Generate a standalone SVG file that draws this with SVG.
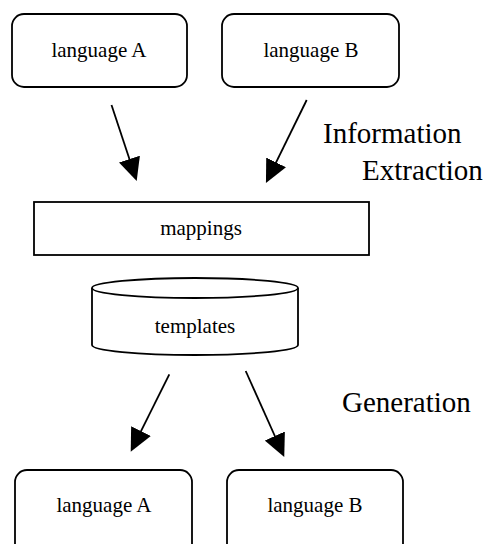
<svg xmlns="http://www.w3.org/2000/svg" width="485" height="544" viewBox="0 0 485 544">
  <defs>
    <style>
      .box { fill: #ffffff; stroke: #000000; stroke-width: 1.8; }
      .lbl { font-family: "Liberation Serif", "Times New Roman", serif; font-size: 21px; fill: #000000; text-anchor: middle; }
      .big { font-family: "Liberation Serif", "Times New Roman", serif; font-size: 29px; fill: #000000; }
      .edge { stroke: #000000; stroke-width: 1.8; fill: none; marker-end: url(#head); }
    </style>
    <marker id="head" markerUnits="userSpaceOnUse" markerWidth="24" markerHeight="22" viewBox="0 0 24 22" refX="17" refY="11" orient="auto">
      <path d="M0,0 L23,11 L0,22 Z" fill="#000000"/>
    </marker>
  </defs>

  <rect width="485" height="544" fill="#ffffff"/>

  <!-- source languages -->
  <g id="src-a">
    <rect class="box" x="12" y="14" width="175" height="73" rx="12" ry="12"/>
    <text class="lbl" x="99" y="57">language A</text>
  </g>
  <g id="src-b">
    <rect class="box" x="222" y="14" width="177" height="73" rx="12" ry="12"/>
    <text class="lbl" x="311" y="57">language B</text>
  </g>

  <!-- shared mapping layer -->
  <g id="mappings">
    <rect class="box" x="34" y="202" width="335" height="53"/>
    <text class="lbl" x="201" y="235">mappings</text>
  </g>

  <!-- template store -->
  <g id="templates">
    <path class="box" d="M92,288 L92,345 A103,10 0 0 0 298,345 L298,288 A103,10 0 0 0 92,288 Z"/>
    <path class="box" d="M92,288 A103,10 0 0 0 298,288" fill="none"/>
    <text class="lbl" x="195" y="333">templates</text>
  </g>

  <!-- target languages -->
  <g id="dst-a">
    <rect class="box" x="15" y="470" width="177" height="90" rx="12" ry="12"/>
    <text class="lbl" x="104" y="512">language A</text>
  </g>
  <g id="dst-b">
    <rect class="box" x="227" y="470" width="176" height="90" rx="12" ry="12"/>
    <text class="lbl" x="315" y="512">language B</text>
  </g>

  <!-- stage labels -->
  <g id="stage-labels">
    <text class="big" x="323" y="143">Information</text>
    <text class="big" x="362" y="180">Extraction</text>
    <text class="big" x="342" y="412">Generation</text>
  </g>

  <!-- connectors -->
  <g id="connectors">
    <line class="edge" x1="111.5" y1="105" x2="134.8" y2="175.3"/>
    <line class="edge" x1="306.7" y1="100" x2="268.6" y2="177.6"/>
    <line class="edge" x1="169.3" y1="374.3" x2="133.4" y2="446.3"/>
    <line class="edge" x1="245.7" y1="371" x2="281.8" y2="451.5"/>
  </g>
</svg>
